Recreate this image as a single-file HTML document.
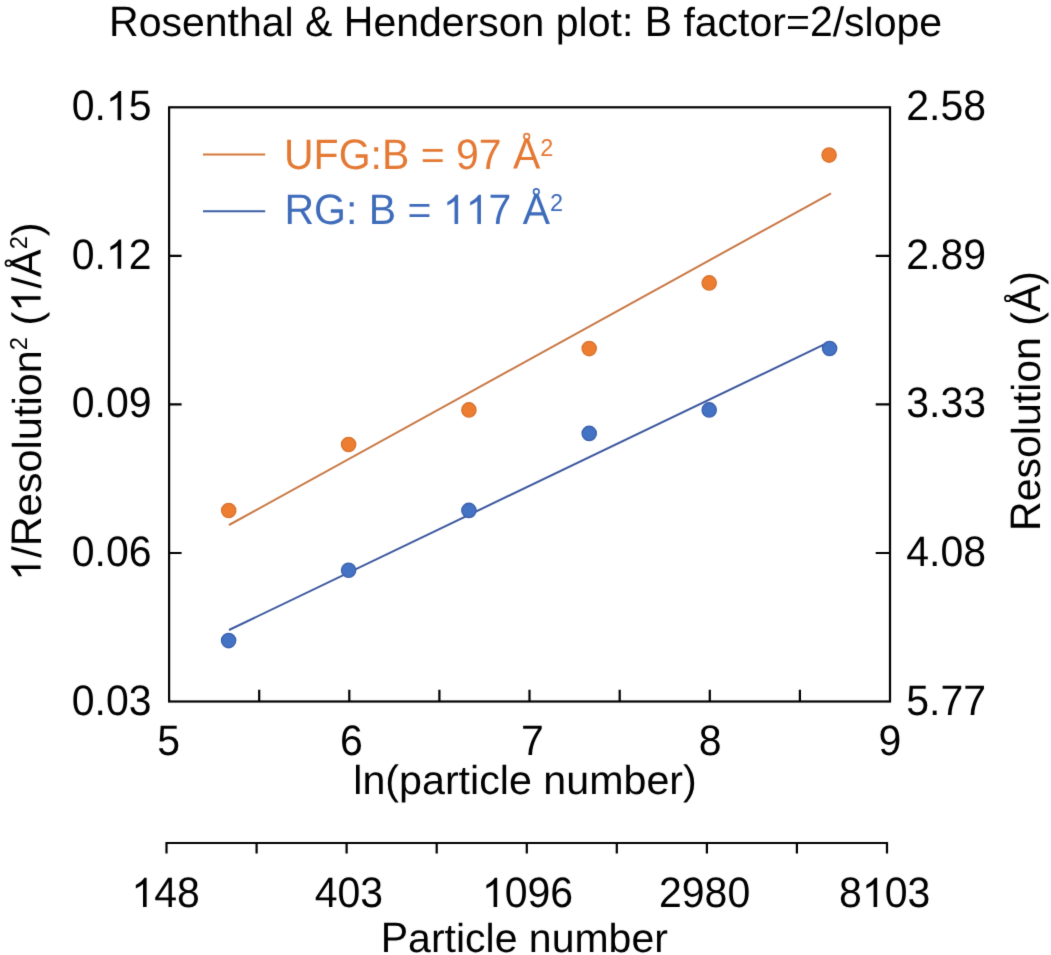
<!DOCTYPE html>
<html><head><meta charset="utf-8">
<style>
html,body{margin:0;padding:0;background:#fff;width:1051px;height:955px;overflow:hidden;}
svg{display:block;}
text{font-family:"Liberation Sans",sans-serif;font-size:41px;font-kerning:none;text-rendering:geometricPrecision;}
</style></head>
<body>
<svg width="1051" height="955" viewBox="0 0 1051 955">
<defs><filter id="bl" x="0" y="0" width="1051" height="955" filterUnits="userSpaceOnUse" color-interpolation-filters="sRGB"><feConvolveMatrix order="3" kernelMatrix="0.01134 0.08382 0.01134 0.08382 0.61935 0.08382 0.01134 0.08382 0.01134" edgeMode="duplicate" preserveAlpha="true"/></filter></defs>
<g filter="url(#bl)">
<rect width="1051" height="955" fill="#fff"/>
<g transform="translate(525.6,36.2)" fill="#000"><text transform="scale(1,1.0405)" x="-416.52" y="0.00">R</text><text transform="scale(1,0.985)" x="-386.91" y="0.00">osenthal</text><text transform="scale(1,1.0405)" x="-220.51" y="0.00">&amp; H</text><text transform="scale(1,0.985)" x="-152.16" y="0.00">enderson plot</text><text transform="scale(1,1.0)" x="96.30" y="0.00">:</text><text transform="scale(1,1.0405)" x="119.09" y="0.00">B</text><text transform="scale(1,0.985)" x="157.82" y="0.00">factor</text><text transform="scale(1,1.0)" x="260.36" y="0.00">=</text><text transform="scale(1,1.0405)" x="284.31" y="0.00">2</text><text transform="scale(1,1.0)" x="307.11" y="0.00">/</text><text transform="scale(1,0.985)" x="318.50" y="0.00">slope</text></g>
<g stroke="#000" stroke-width="2.2" fill="none">
<rect x="169.1" y="107.3" width="720.9" height="594.2"/>
<path d="M169.1 553.0H181.6M890.0 553.0H875.7M169.1 404.4H181.6M890.0 404.4H875.7M169.1 255.8H181.6M890.0 255.8H875.7M259.2 701.5V689.7M349.3 701.5V689.7M439.4 701.5V689.7M529.5 701.5V689.7M619.7 701.5V689.7M709.8 701.5V689.7M799.9 701.5V689.7"/>
<path d="M166.5 853.5V843.0H887.0V853.5M256.6 843.0V853.5M346.6 843.0V853.5M436.7 843.0V853.5M526.8 843.0V853.5M616.8 843.0V853.5M706.9 843.0V853.5M796.9 843.0V853.5"/>
</g>
<g fill="#000">
<g transform="translate(151.5,120.3)"><text transform="scale(1,1.0405)" x="-79.80" y="0.00">0</text><text transform="scale(1,1.0)" x="-57.00" y="0.00">.</text><path transform="translate(-45.60,0.00) scale(0.02002,-0.02002)" d="M763 0L583 0L583 1147Q518 1085 412.5 1023Q307 961 223 930L223 1104Q374 1175 487 1276Q600 1377 647 1466L763 1466Z"/><text transform="scale(1,1.0405)" x="-22.80" y="0.00">5</text></g>
<g transform="translate(151.5,268.8)"><text transform="scale(1,1.0405)" x="-79.80" y="0.00">0</text><text transform="scale(1,1.0)" x="-57.00" y="0.00">.</text><path transform="translate(-45.60,0.00) scale(0.02002,-0.02002)" d="M763 0L583 0L583 1147Q518 1085 412.5 1023Q307 961 223 930L223 1104Q374 1175 487 1276Q600 1377 647 1466L763 1466Z"/><text transform="scale(1,1.0405)" x="-22.80" y="0.00">2</text></g>
<g transform="translate(151.5,417.4)"><text transform="scale(1,1.0405)" x="-79.80" y="0.00">0</text><text transform="scale(1,1.0)" x="-57.00" y="0.00">.</text><text transform="scale(1,1.0405)" x="-45.60" y="0.00">09</text></g>
<g transform="translate(151.5,566.0)"><text transform="scale(1,1.0405)" x="-79.80" y="0.00">0</text><text transform="scale(1,1.0)" x="-57.00" y="0.00">.</text><text transform="scale(1,1.0405)" x="-45.60" y="0.00">06</text></g>
<g transform="translate(151.5,714.5)"><text transform="scale(1,1.0405)" x="-79.80" y="0.00">0</text><text transform="scale(1,1.0)" x="-57.00" y="0.00">.</text><text transform="scale(1,1.0405)" x="-45.60" y="0.00">03</text></g>
<g transform="translate(906.3,120.3)"><text transform="scale(1,1.0405)" x="0.00" y="0.00">2</text><text transform="scale(1,1.0)" x="22.80" y="0.00">.</text><text transform="scale(1,1.0405)" x="34.19" y="0.00">58</text></g>
<g transform="translate(906.3,268.8)"><text transform="scale(1,1.0405)" x="0.00" y="0.00">2</text><text transform="scale(1,1.0)" x="22.80" y="0.00">.</text><text transform="scale(1,1.0405)" x="34.19" y="0.00">89</text></g>
<g transform="translate(906.3,417.4)"><text transform="scale(1,1.0405)" x="0.00" y="0.00">3</text><text transform="scale(1,1.0)" x="22.80" y="0.00">.</text><text transform="scale(1,1.0405)" x="34.19" y="0.00">33</text></g>
<g transform="translate(906.3,566.0)"><text transform="scale(1,1.0405)" x="0.00" y="0.00">4</text><text transform="scale(1,1.0)" x="22.80" y="0.00">.</text><text transform="scale(1,1.0405)" x="34.19" y="0.00">08</text></g>
<g transform="translate(906.3,714.5)"><text transform="scale(1,1.0405)" x="0.00" y="0.00">5</text><text transform="scale(1,1.0)" x="22.80" y="0.00">.</text><text transform="scale(1,1.0405)" x="34.19" y="0.00">77</text></g>
<g transform="translate(168.75,754.5)"><text transform="scale(1,1.0405)" x="-11.40" y="0.00">5</text></g>
<g transform="translate(351.3,754.5)"><text transform="scale(1,1.0405)" x="-11.40" y="0.00">6</text></g>
<g transform="translate(532.5,754.5)"><text transform="scale(1,1.0405)" x="-11.40" y="0.00">7</text></g>
<g transform="translate(710.05,754.5)"><text transform="scale(1,1.0405)" x="-11.40" y="0.00">8</text></g>
<g transform="translate(889.95,754.5)"><text transform="scale(1,1.0405)" x="-11.40" y="0.00">9</text></g>
<g transform="translate(525.0,794.4) scale(1.005,1)"><text transform="scale(1,0.985)" x="-170.90" y="0.00">ln</text><text transform="scale(1,1.0)" x="-138.99" y="0.00">(</text><text transform="scale(1,0.985)" x="-125.33" y="0.00">particle number</text><text transform="scale(1,1.0)" x="157.24" y="0.00">)</text></g>
<g transform="translate(165.55,907)"><path transform="translate(-34.20,0.00) scale(0.02002,-0.02002)" d="M763 0L583 0L583 1147Q518 1085 412.5 1023Q307 961 223 930L223 1104Q374 1175 487 1276Q600 1377 647 1466L763 1466Z"/><text transform="scale(1,1.0405)" x="-11.40" y="0.00">48</text></g>
<g transform="translate(348.9,907)"><text transform="scale(1,1.0405)" x="-34.20" y="0.00">403</text></g>
<g transform="translate(527.5,907)"><path transform="translate(-45.60,0.00) scale(0.02002,-0.02002)" d="M763 0L583 0L583 1147Q518 1085 412.5 1023Q307 961 223 930L223 1104Q374 1175 487 1276Q600 1377 647 1466L763 1466Z"/><text transform="scale(1,1.0405)" x="-22.80" y="0.00">096</text></g>
<g transform="translate(704.6,907)"><text transform="scale(1,1.0405)" x="-45.60" y="0.00">2980</text></g>
<g transform="translate(884.7,907)"><text transform="scale(1,1.0405)" x="-45.60" y="0.00">8</text><path transform="translate(-22.80,0.00) scale(0.02002,-0.02002)" d="M763 0L583 0L583 1147Q518 1085 412.5 1023Q307 961 223 930L223 1104Q374 1175 487 1276Q600 1377 647 1466L763 1466Z"/><text transform="scale(1,1.0405)" x="0.00" y="0.00">03</text></g>
<g transform="translate(524.3,951.5)"><text transform="scale(1,1.0405)" x="-143.56" y="0.00">P</text><text transform="scale(1,0.985)" x="-116.21" y="0.00">article number</text></g>
<g transform="translate(40.6,401.6) rotate(-90) scale(1.012,1)"><path transform="translate(-177.15,0.00) scale(0.02002,-0.02002)" d="M763 0L583 0L583 1147Q518 1085 412.5 1023Q307 961 223 930L223 1104Q374 1175 487 1276Q600 1377 647 1466L763 1466Z"/><text transform="scale(1,1.0)" x="-154.35" y="0.00">/</text><text transform="scale(1,1.0405)" x="-142.96" y="0.00">R</text><text transform="scale(1,0.985)" x="-113.35" y="0.00">esolution</text><text transform="scale(1,1.0405)" x="50.77" y="-12.97" style="font-size:23.5px">2</text><text transform="scale(1,1.0)" x="75.23" y="0.00">(</text><path transform="translate(88.89,0.00) scale(0.02002,-0.02002)" d="M763 0L583 0L583 1147Q518 1085 412.5 1023Q307 961 223 930L223 1104Q374 1175 487 1276Q600 1377 647 1466L763 1466Z"/><text transform="scale(1,1.0)" x="111.69" y="0.00">/</text><g transform="translate(123.08,0.00) scale(0.02002,-0.02082)"><path d="M1167 0 1006 412H364L202 0H4L579 1409H796L1362 0ZM685 1265 676 1237Q651 1154 602 1024L422 561H949L768 1026Q740 1095 712 1182Z"/><circle cx="683" cy="1545" r="180"/><circle cx="683" cy="1545" r="95" fill="#fff"/></g><text transform="scale(1,1.0405)" x="150.43" y="-12.97" style="font-size:23.5px">2</text><text transform="scale(1,1.0)" x="163.50" y="0.00">)</text></g>
<g transform="translate(1040,401) rotate(-90)"><text transform="scale(1,1.0405)" x="-129.89" y="0.00">R</text><text transform="scale(1,0.985)" x="-100.28" y="0.00">esolution</text><text transform="scale(1,1.0)" x="75.23" y="0.00">(</text><g transform="translate(88.89,0.00) scale(0.02002,-0.02082)"><path d="M1167 0 1006 412H364L202 0H4L579 1409H796L1362 0ZM685 1265 676 1237Q651 1154 602 1024L422 561H949L768 1026Q740 1095 712 1182Z"/><circle cx="683" cy="1545" r="180"/><circle cx="683" cy="1545" r="95" fill="#fff"/></g><text transform="scale(1,1.0)" x="116.23" y="0.00">)</text></g>
</g>
<line x1="203" y1="154.5" x2="265.2" y2="154.5" stroke="#D4763A" stroke-width="2"/>
<line x1="203" y1="211.3" x2="265.2" y2="211.3" stroke="#3B5CA2" stroke-width="2.1"/>
<g transform="translate(284,168.6)" fill="#E47934"><text transform="scale(1,1.0405)" x="0.00" y="0.00">UFG</text><text transform="scale(1,1.0)" x="86.54" y="0.00">:</text><text transform="scale(1,1.0405)" x="97.94" y="0.00">B</text><text transform="scale(1,1.0)" x="136.67" y="0.00">=</text><text transform="scale(1,1.0405)" x="172.01" y="0.00">97</text><g transform="translate(229.00,0.00) scale(0.02002,-0.02082)"><path d="M1167 0 1006 412H364L202 0H4L579 1409H796L1362 0ZM685 1265 676 1237Q651 1154 602 1024L422 561H949L768 1026Q740 1095 712 1182Z"/><circle cx="683" cy="1545" r="180"/><circle cx="683" cy="1545" r="95" fill="#fff"/></g><text transform="scale(1,1.0405)" x="256.35" y="-12.49" style="font-size:23.5px">2</text></g>
<g transform="translate(284.5,224)" fill="#3E6BBA"><text transform="scale(1,1.0405)" x="0.00" y="0.00">RG</text><text transform="scale(1,1.0)" x="61.50" y="0.00">:</text><text transform="scale(1,1.0405)" x="84.28" y="0.00">B</text><text transform="scale(1,1.0)" x="123.02" y="0.00">=</text><path transform="translate(158.35,0.00) scale(0.02002,-0.02002)" d="M763 0L583 0L583 1147Q518 1085 412.5 1023Q307 961 223 930L223 1104Q374 1175 487 1276Q600 1377 647 1466L763 1466Z"/><path transform="translate(181.16,0.00) scale(0.02002,-0.02002)" d="M763 0L583 0L583 1147Q518 1085 412.5 1023Q307 961 223 930L223 1104Q374 1175 487 1276Q600 1377 647 1466L763 1466Z"/><text transform="scale(1,1.0405)" x="203.96" y="0.00">7</text><g transform="translate(238.15,0.00) scale(0.02002,-0.02082)"><path d="M1167 0 1006 412H364L202 0H4L579 1409H796L1362 0ZM685 1265 676 1237Q651 1154 602 1024L422 561H949L768 1026Q740 1095 712 1182Z"/><circle cx="683" cy="1545" r="180"/><circle cx="683" cy="1545" r="95" fill="#fff"/></g><text transform="scale(1,1.0405)" x="265.50" y="-12.49" style="font-size:23.5px">2</text></g>
<line x1="229" y1="525" x2="831" y2="193.3" stroke="#C87744" stroke-width="2.0"/>
<line x1="229" y1="630" x2="830" y2="341.7" stroke="#3B579D" stroke-width="2"/>
<g fill="#ED7D31" stroke="#D7722C" stroke-width="1.3">
<circle cx="228.7" cy="510.5" r="7.15"/>
<circle cx="348.6" cy="444.5" r="7.15"/>
<circle cx="468.9" cy="409.9" r="7.15"/>
<circle cx="589.2" cy="348.6" r="7.15"/>
<circle cx="709.2" cy="282.9" r="7.15"/>
<circle cx="829.1" cy="155.1" r="7.15"/>
</g>
<g fill="#4472C4" stroke="#3B5FAA" stroke-width="1.3">
<circle cx="228.6" cy="640.6" r="7.15"/>
<circle cx="348.6" cy="570.2" r="7.15"/>
<circle cx="468.9" cy="510.4" r="7.15"/>
<circle cx="589.2" cy="433.4" r="7.15"/>
<circle cx="709.2" cy="409.9" r="7.15"/>
<circle cx="829.6" cy="348.5" r="7.15"/>
</g>
</g>
</svg>
</body></html>
